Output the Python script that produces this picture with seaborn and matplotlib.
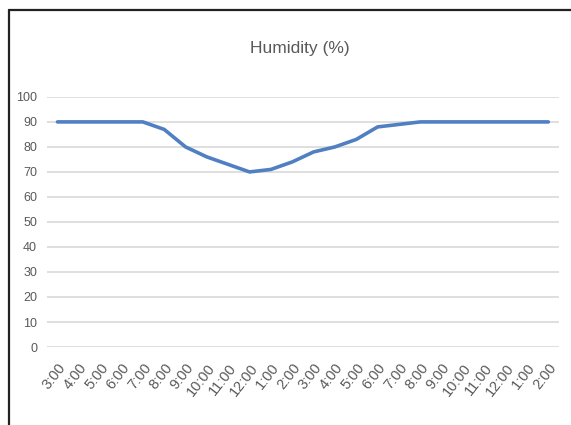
import matplotlib
matplotlib.use("Agg")
import matplotlib.pyplot as plt
import numpy as np
import pandas as pd
import seaborn as sns
from matplotlib.lines import Line2D

hours = ["3:00", "4:00", "5:00", "6:00", "7:00", "8:00", "9:00", "10:00",
         "11:00", "12:00", "1:00", "2:00", "3:00", "4:00", "5:00", "6:00",
         "7:00", "8:00", "9:00", "10:00", "11:00", "12:00", "1:00", "2:00"]
humidity = [90, 90, 90, 90, 90, 87, 80, 76, 73, 70, 71, 74,
            78, 80, 83, 88, 89, 90, 90, 90, 90, 90, 90, 90]
yticks = [0, 10, 20, 30, 40, 50, 60, 70, 80, 90, 100]

sns.set_style("white")
plt.rcParams['font.family'] = ['Liberation Sans', 'DejaVu Sans']

df = pd.DataFrame({"pos": np.arange(len(hours)), "humidity": humidity})

fig = plt.figure(figsize=(5.71, 4.25), dpi=100)
ax = fig.add_axes([0.082, 0.1835, 0.897, 0.5885])

for v in yticks:
    ax.axhline(v, color="#d9d9d9", lw=1.2, zorder=0)

sns.lineplot(data=df, x="pos", y="humidity", ax=ax, color="#5080c2", lw=2.6)

ax.set_xlim(-0.5, len(hours) - 0.5)
ax.set_ylim(0, 100)
ax.set_yticks(yticks)
ax.set_yticklabels([str(v) for v in yticks], color="#595959", fontsize=9)
ax.set_xticks(df["pos"])
ax.set_xticklabels(hours, rotation=52, ha="right", rotation_mode="anchor",
                   color="#595959", fontsize=10.5)
ax.tick_params(axis="y", length=0, pad=7)
ax.tick_params(axis="x", length=0, pad=10)
ax.set_xlabel("")
ax.set_ylabel("")
for s in ax.spines.values():
    s.set_visible(False)

fig.text(0.525, 0.885, "Humidity (%)", ha="center", va="center",
         fontsize=12.5, color="#595959")

# chart frame (top and left edges)
fig.add_artist(Line2D([0.016, 1.0], [0.976, 0.976], color="#222222", lw=1.6))
fig.add_artist(Line2D([0.016, 0.016], [0.0, 0.976], color="#222222", lw=1.6))

fig.savefig("out.png", dpi=100)
